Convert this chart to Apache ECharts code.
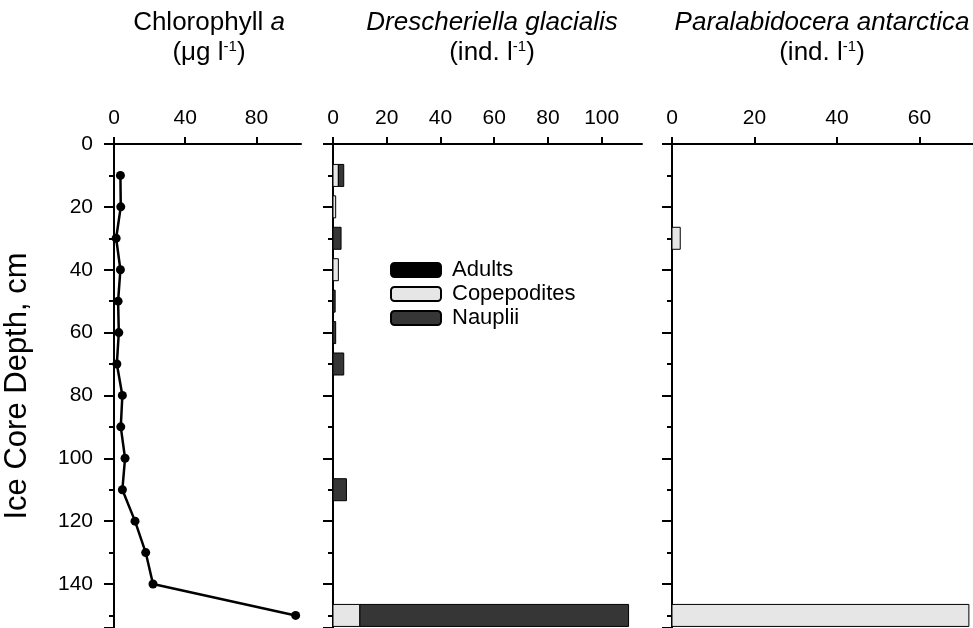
<!DOCTYPE html>
<html>
<head>
<meta charset="utf-8">
<script src="https://cdn.jsdelivr.net/npm/echarts@6/dist/echarts.min.js"></script>
<style>
html,body{margin:0;padding:0;background:#fff;}
#chart{width:973px;height:628px;}
</style>
</head>
<body>
<div id="chart"></div>
<script>
// ---- data ----
const depths = [10, 20, 30, 40, 50, 60, 70, 80, 90, 100, 110, 120, 130, 140, 150];
const chlA = [3.6, 3.8, 1.2, 3.6, 2.3, 2.7, 1.6, 4.7, 3.8, 6.2, 4.7, 11.8, 17.8, 21.9, 102];
const dgAdults = [0, 0, 0, 0, 0, 0, 0, 0, 0, 0, 0, 0, 0, 0, 0];
const dgCopepodites = [2, 1, 0, 2, 0, 0, 0, 0, 0, 0, 0, 0, 0, 0, 10];
const dgNauplii = [2, 0, 3, 0, 0.8, 1, 4, 0, 0, 0, 5, 0, 0, 0, 100];
const paAdults = [0, 0, 0, 0, 0, 0, 0, 0, 0, 0, 0, 0, 0, 0, 0];
const paCopepodites = [0, 0, 2, 0, 0, 0, 0, 0, 0, 0, 0, 0, 0, 0, 72];
const paNauplii = [0, 0, 0, 0, 0, 0, 0, 0, 0, 0, 0, 0, 0, 0, 0];
const stageNames = ['Adults', 'Copepodites', 'Nauplii'];

// ---- styling ----
const FONT = '"Liberation Sans", Arial, sans-serif';
const stageColors = { Adults: '#000000', Copepodites: '#e6e6e6', Nauplii: '#363636' };
const BAR_DEPTH = 7;

function stackRows(layers) {
  const out = layers.map(() => []);
  depths.forEach((d, i) => {
    let acc = 0;
    layers.forEach((arr, k) => {
      const v = arr[i];
      out[k].push([d, acc, acc + v]);
      acc += v;
    });
  });
  return out;
}

function renderBar(params, api) {
  const d = api.value(0), s = api.value(1), e = api.value(2);
  if (!(e > s)) return null;
  const p0 = api.coord([s, d]);
  const p1 = api.coord([e, d]);
  const h = api.size([0, BAR_DEPTH])[1];
  return {
    type: 'rect',
    shape: { x: p0[0], y: p0[1] - h / 2, width: p1[0] - p0[0], height: h },
    style: api.style({ stroke: '#000', lineWidth: 1 })
  };
}

const dgStack = stackRows([dgAdults, dgCopepodites, dgNauplii]);
const paStack = stackRows([paAdults, paCopepodites, paNauplii]);

const gridTop = 144, gridH = 484;
const grids = [
  { left: 114, top: gridTop, width: 187, height: gridH },
  { left: 333, top: gridTop, width: 309, height: gridH },
  { left: 672, top: gridTop, width: 301, height: gridH }
];
const xMax = [105, 115, 73];
const xInt = [40, 20, 20];

const axisLineStyle = { show: true, lineStyle: { color: '#000', width: 2 } };

const xAxes = grids.map((g, i) => ({
  type: 'value', gridIndex: i, position: 'top', min: 0, max: xMax[i], interval: xInt[i],
  axisLine: axisLineStyle,
  axisTick: { show: true, inside: false, length: 7, lineStyle: { color: '#000', width: 2 } },
  axisLabel: { show: true, fontFamily: FONT, fontSize: 21, color: '#000', margin: 15, showMaxLabel: false },
  splitLine: { show: false }
}));

const yAxes = grids.map((g, i) => ({
  type: 'value', gridIndex: i, inverse: true, min: 0, max: 154, interval: 20,
  axisLine: axisLineStyle,
  axisTick: { show: true, inside: false, length: 10, lineStyle: { color: '#000', width: 2 } },
  minorTick: { show: true, splitNumber: 2, length: 5, lineStyle: { color: '#000', width: 2 } },
  axisLabel: { show: i === 0, fontFamily: FONT, fontSize: 21, color: '#000', margin: 21, showMaxLabel: false },
  splitLine: { show: false },
  name: i === 0 ? 'Ice Core Depth, cm' : '',
  nameLocation: 'middle', nameRotate: 90, nameGap: 81,
  nameTextStyle: { fontFamily: FONT, fontSize: 31, color: '#000' }
}));

const series = [{
  type: 'line', name: 'Chlorophyll a', xAxisIndex: 0, yAxisIndex: 0,
  data: depths.map((d, i) => [chlA[i], d]),
  symbol: 'circle', symbolSize: 9,
  lineStyle: { color: '#000', width: 2.5 },
  itemStyle: { color: '#000' },
  silent: true
}];

stageNames.forEach((n, k) => {
  series.push({
    type: 'custom', name: n, xAxisIndex: 1, yAxisIndex: 1,
    renderItem: renderBar, data: dgStack[k],
    encode: { x: [1, 2], y: 0 },
    itemStyle: { color: stageColors[n], borderColor: '#000', borderWidth: 1 }
  });
  series.push({
    type: 'custom', name: n, xAxisIndex: 2, yAxisIndex: 2,
    renderItem: renderBar, data: paStack[k],
    encode: { x: [1, 2], y: 0 },
    itemStyle: { color: stageColors[n], borderColor: '#000', borderWidth: 1 }
  });
});

const titleRich = {
  i: { fontStyle: 'italic', fontFamily: FONT, fontSize: 26, color: '#000' },
  n: { fontFamily: FONT, fontSize: 26, color: '#000' },
  sup: { fontFamily: FONT, fontSize: 15, color: '#000', padding: [0, 0, 13, 0] }
};
function mkTitle(text, x) {
  return {
    text: text, left: x, top: 3, textAlign: 'center',
    textStyle: { rich: titleRich, fontFamily: FONT, fontSize: 26, color: '#000', fontWeight: 'normal', lineHeight: 30 }
  };
}

const chart = echarts.init(document.getElementById('chart'), null, { renderer: 'canvas' });
chart.setOption({
  backgroundColor: '#fff',
  animation: false,
  title: [
    mkTitle('{n|Chlorophyll }{i|a}\n{n|(μg l}{sup|-1}{n|)}', 204),
    mkTitle('{i|Drescheriella glacialis}\n{n|(ind. l}{sup|-1}{n|)}', 487),
    mkTitle('{i|Paralabidocera antarctica}\n{n|(ind. l}{sup|-1}{n|)}', 817)
  ],
  legend: {
    data: stageNames, orient: 'vertical', left: 390, top: 259, padding: 0,
    itemWidth: 50, itemHeight: 14, itemGap: 2, icon: 'roundRect',
    textStyle: { fontFamily: FONT, fontSize: 22, color: '#000', padding: [0, 0, 0, 6] },
    selectedMode: false
  },
  grid: grids,
  xAxis: xAxes,
  yAxis: yAxes,
  series: series
});
</script>
</body>
</html>
